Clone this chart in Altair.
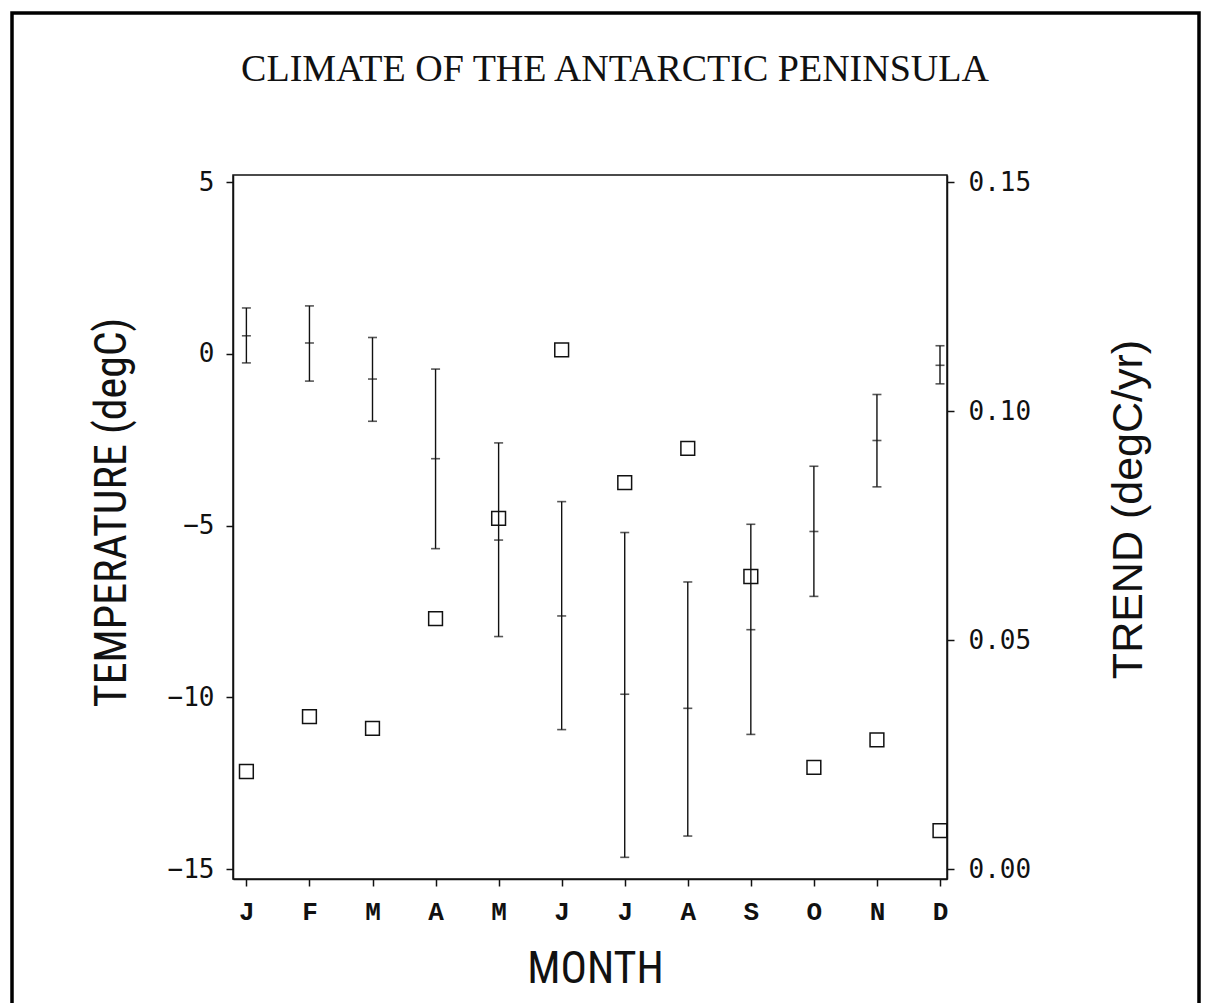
import altair as alt
import pandas as pd

months = ["J", "F", "M", "A", "M", "J", "J", "A", "S", "O", "N", "D"]
month_num = list(range(1, 13))
temp_mean = [0.53, 0.32, -0.73, -3.05, -5.42, -7.63, -9.91, -10.32, -8.03, -5.17, -2.52, -0.33]
temp_upper = [1.34, 1.40, 0.48, -0.44, -2.59, -4.30, -5.20, -6.64, -4.96, -3.27, -1.18, 0.24]
temp_lower = [-0.26, -0.79, -1.96, -5.67, -8.23, -10.94, -14.66, -14.04, -11.08, -7.06, -3.87, -0.87]
trend = [0.0213, 0.0333, 0.0307, 0.0547, 0.0766, 0.1134, 0.0844, 0.0919, 0.0639, 0.0222, 0.0282, 0.0084]

temp_ticks = [-15, -10, -5, 0, 5]
trend_ticks = [0.0, 0.05, 0.10, 0.15]

df = pd.DataFrame({
    "m": month_num,
    "label": months,
    "mean": temp_mean,
    "upper": temp_upper,
    "lower": temp_lower,
    "trend": trend,
})

INK = "#111111"
SANS_C = "Liberation Sans Narrow, Roboto Condensed, Liberation Sans, Arial"
SANS = "Liberation Sans, Arial"
NUM_FONT = "DejaVu Sans Mono"

label_array = "[" + ",".join("'" + s + "'" for s in months) + "]"

x_scale = alt.Scale(domain=[0.7876, 12.111], nice=False, zero=False)
x_axis = alt.Axis(
    values=month_num,
    labelExpr=label_array + "[datum.value - 1]",
    title="MONTH",
    titleFont=SANS_C,
    titleFontSize=44,
    titleFontWeight="normal",
    titleColor=INK,
    titleX=362,
    titleY=103,
    titleBaseline="alphabetic",
    titleAnchor="middle",
    labelFont="Liberation Mono",
    labelFontWeight="bold",
    labelFontSize=26,
    labelColor=INK,
    labelPadding=12,
    labelFlush=False,
    labelOverlap=False,
    tickSize=7,
    grid=False,
)

y_scale = alt.Scale(domain=[-15.291, 5.2125], nice=False, zero=False)
y_axis = alt.Axis(
    orient="left",
    values=temp_ticks,
    format="d",
    title="TEMPERATURE (degC)",
    titleFont=SANS_C,
    titleFontSize=44,
    titleFontWeight="normal",
    titleColor=INK,
    titleAngle=270,
    titleBaseline="alphabetic",
    titleX=-108,
    titleY=337,
    titleAlign="center",
    labelFont=NUM_FONT,
    labelFontSize=26,
    labelColor=INK,
    labelPadding=12,
    labelFlush=False,
    tickSize=7,
    grid=False,
)


def xq():
    return alt.X("m:Q", scale=x_scale, axis=x_axis)


def yq(field):
    return alt.Y(field, scale=y_scale, axis=y_axis)


rule = alt.Chart(df).mark_rule(color=INK, strokeWidth=1.4).encode(
    x=xq(), y=yq("lower:Q"), y2="upper:Q"
)
cap_hi = alt.Chart(df).mark_tick(orient="horizontal", color=INK, size=9, thickness=1.6).encode(
    x=xq(), y=yq("upper:Q")
)
cap_lo = alt.Chart(df).mark_tick(orient="horizontal", color=INK, size=9, thickness=1.6).encode(
    x=xq(), y=yq("lower:Q")
)
mid = alt.Chart(df).mark_tick(orient="horizontal", color=INK, size=9, thickness=1.6).encode(
    x=xq(), y=yq("mean:Q")
)

temp_layer = alt.layer(rule, cap_hi, cap_lo, mid)

squares = alt.Chart(df).mark_point(shape="square", filled=False, size=190, color=INK, strokeWidth=1.5, opacity=1).encode(
    x=xq(),
    y=alt.Y(
        "trend:Q",
        scale=alt.Scale(domain=[-0.00218, 0.1516], nice=False, zero=False),
        axis=alt.Axis(
            orient="right",
            values=trend_ticks,
            format=".2f",
            title="TREND (degC/yr)",
            titleFont=SANS,
            titleFontSize=43,
            titleFontWeight="normal",
            titleColor=INK,
            titleAngle=270,
            titleBaseline="alphabetic",
            titleX=194,
            titleY=334,
            titleAlign="center",
            labelFont=NUM_FONT,
            labelFontSize=26,
            labelColor=INK,
            labelPadding=14,
            labelFlush=False,
            tickSize=7,
            grid=False,
        ),
    ),
)

frame = alt.Chart(pd.DataFrame({"k": [0]})).mark_rect(
    fill=None, fillOpacity=0, stroke="black", strokeWidth=3.5, clip=False
).encode(
    x=alt.value(-221), x2=alt.value(966), y=alt.value(-162), y2=alt.value(840)
)

chart = alt.layer(temp_layer, squares, frame).resolve_scale(y="independent").properties(
    width=714,
    height=704,
    background="white",
    autosize=alt.AutoSizeParams(type="none"),
    padding={"left": 233, "top": 175, "right": 263, "bottom": 124},
    title=alt.Title(
        "CLIMATE OF THE ANTARCTIC PENINSULA",
        font="Liberation Serif",
        fontSize=38,
        fontWeight="normal",
        color=INK,
        anchor="middle",
        dx=25,
        offset=0,
        dy=108,
        baseline="alphabetic",
    ),
).configure_view(
    stroke=INK, strokeWidth=1.5
).configure_axis(
    domainColor=INK, domainWidth=1.5, tickColor=INK, tickWidth=1.5
)

chart.save("out.html", embed_options={"renderer": "svg", "actions": False})
